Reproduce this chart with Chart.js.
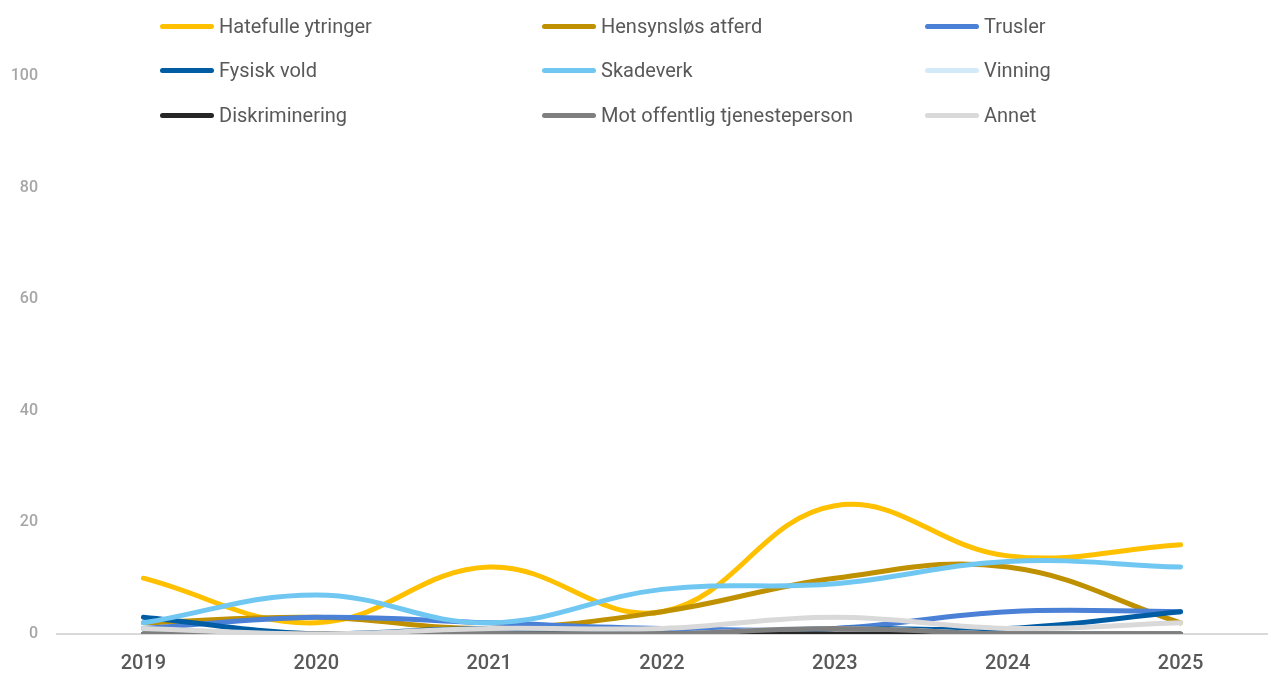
<!DOCTYPE html>
<html><head><meta charset="utf-8">
<script src="https://cdn.jsdelivr.net/npm/chart.js@4"></script>
<style>
html,body{margin:0;padding:0;background:#fff;}
#wrap{position:relative;width:1272px;height:675px;}
#legend{position:absolute;left:0;top:0;width:1272px;height:140px;font-family:Roboto,"DejaVu Sans",sans-serif;font-size:20px;color:#595959;pointer-events:none;}
.item{position:absolute;display:flex;align-items:center;height:24px;}
.sw{width:54px;height:5px;border-radius:3px;margin-right:5px;}
</style></head>
<body><div id="wrap"><canvas id="c" width="1272" height="675"></canvas><div id="legend"></div></div>
<script>
const years = ["2019","2020","2021","2022","2023","2024","2025"];
const seriesNames = ["Hatefulle ytringer","Hensynsløs atferd","Trusler","Fysisk vold","Skadeverk","Vinning","Diskriminering","Mot offentlig tjenesteperson","Annet"];
const hatefulle = [10,2,12,4,23,14,16];
const hensynslos = [2,3,1,4,10,12,2];
const trusler = [1,3,2,1,1,4,4];
const fysiskVold = [3,0,1,0,1,1,4];
const skadeverk = [2,7,2,8,9,13,12];
const vinning = [0,0,0,0,1,0,0];
const diskriminering = [0,0,0,0,0,0,0];
const motOffentlig = [0,0,0,0,1,0,0];
const annet = [1,0,1,1,3,1,2];
const yTicks = [0,20,40,60,80,100];
const colors = ["#FFC000","#BF9000","#4A80D6","#005CA3","#6FC7F2","#D3EAF8","#262626","#7F7F7F","#D9D9D9"];

const values = [hatefulle,hensynslos,trusler,fysiskVold,skadeverk,vinning,diskriminering,motOffentlig,annet];
const datasets = values.map((v,i)=>({
  label: seriesNames[i], data: v, borderColor: colors[i], backgroundColor: colors[i],
  borderWidth: 5, pointRadius: 0, tension: 0.4, cubicInterpolationMode: 'default',
  borderCapStyle: 'round', borderJoinStyle: 'round', fill: false, order: values.length - i
}));

const lg = document.getElementById('legend');
const colX = [160,542,925], rowY = [14,58,103];
seriesNames.forEach((n,i)=>{
  const d = document.createElement('div'); d.className='item';
  d.style.left = colX[i%3]+'px'; d.style.top = rowY[Math.floor(i/3)]+'px';
  d.innerHTML = '<div class="sw" style="background:'+colors[i]+'"></div><span>'+n+'</span>';
  lg.appendChild(d);
});

new Chart(document.getElementById('c'), {
  type: 'line',
  data: { labels: years, datasets },
  options: {
    responsive: false, animation: false,
    layout: { padding: { top: 76, right: 5, left: 0, bottom: 0 } },
    plugins: { legend: { display: false }, tooltip: { enabled: false } },
    scales: {
      x: {
        offset: true,
        grid: { display: false, drawTicks: false },
        border: { display: true, color: '#D9D9D9', width: 2 },
        ticks: { color: '#595959', font: { family: 'Roboto', size: 20, weight: '500' }, padding: 18 },
        afterFit: s => { s.height = 41; }
      },
      y: {
        min: 0, max: 100,
        afterBuildTicks: s => { s.ticks = yTicks.map(v=>({value:v})); },
        grid: { display: false, drawTicks: false },
        border: { display: false },
        ticks: { color: '#A6A6A6', font: { family: 'Roboto', size: 16, weight: '500' }, padding: 19 },
        afterFit: s => { s.width = 57; }
      }
    }
  }
});
</script></body></html>
